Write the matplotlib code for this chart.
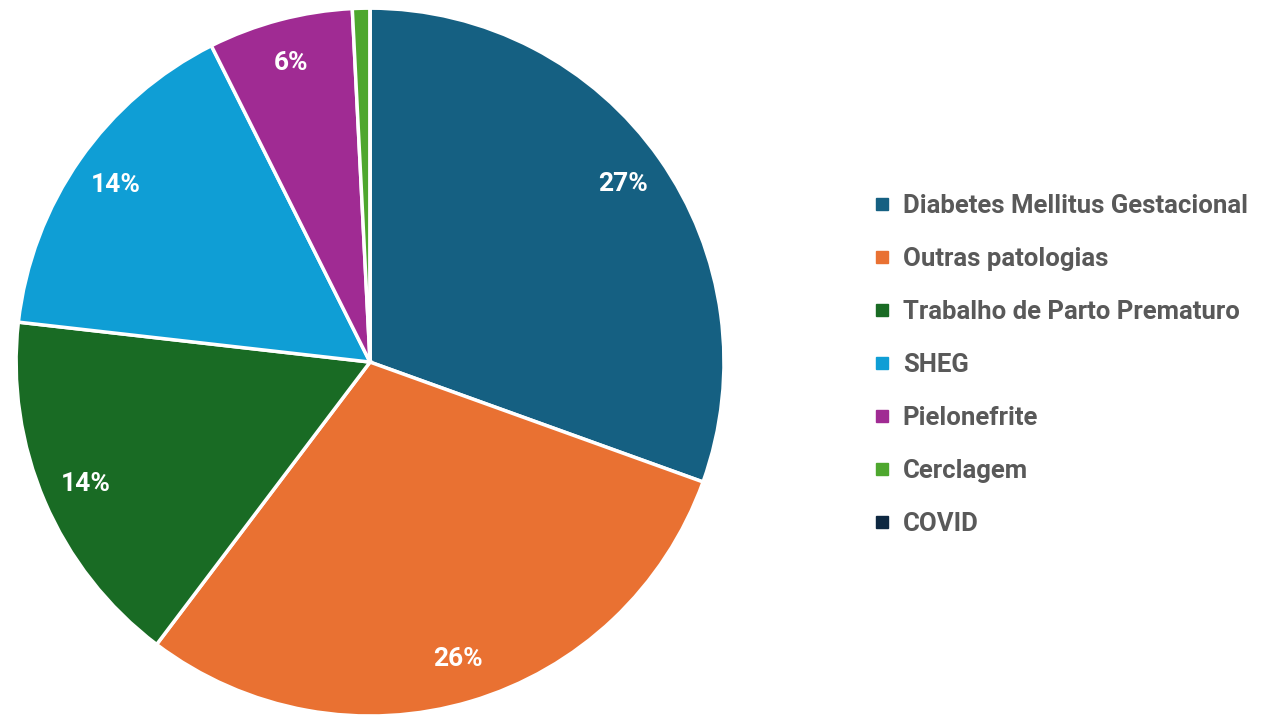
import matplotlib
matplotlib.use("Agg")
import matplotlib.pyplot as plt
from matplotlib.lines import Line2D
import numpy as np

plt.rcParams['font.family'] = ['Roboto', 'DejaVu Sans']

categorias = ['Diabetes Mellitus Gestacional', 'Outras patologias',
              'Trabalho de Parto Prematuro', 'SHEG', 'Pielonefrite',
              'Cerclagem', 'COVID']
valores = [30.5, 29.8, 16.5, 15.8, 6.6, 0.8, 0.0]
rotulos = ['27%', '26%', '14%', '14%', '6%', '', '']
cores = ['#156082', '#E97132', '#196B24', '#0F9ED5', '#A02B93', '#4EA72E', '#0E2841']

fig = plt.figure(figsize=(12.61, 7.15), dpi=100)
ax = fig.add_axes([0.0127, -0.0014, 0.5615, 0.990])

wedges, _ = ax.pie(valores, colors=cores, startangle=90, counterclock=False,
                   wedgeprops=dict(edgecolor='white', linewidth=2.5))

# rótulos de percentagem
total = sum(valores)
ang = 90.0
for v, r in zip(valores, rotulos):
    meio = ang - v / total * 360 / 2
    ang -= v / total * 360
    if r:
        ax.text(0.875 * np.cos(np.radians(meio)), 0.875 * np.sin(np.radians(meio)), r,
                ha='center', va='center', color='white', fontsize=19, fontweight='bold')
ax.set_xlim(-1, 1)
ax.set_ylim(-1, 1)
ax.set_aspect('equal')

handles = [Line2D([], [], marker='s', linestyle='', markersize=8.5, color=c) for c in cores]
leg = fig.legend(handles, categorias, loc='center left', bbox_to_anchor=(0.672, 0.49),
                 frameon=False, handletextpad=0.35, handlelength=0.9,
                 labelspacing=1.13, prop=dict(size=18.5, weight='bold'))
for t in leg.get_texts():
    t.set_color('#595959')

fig.savefig('out.png', dpi=100)
